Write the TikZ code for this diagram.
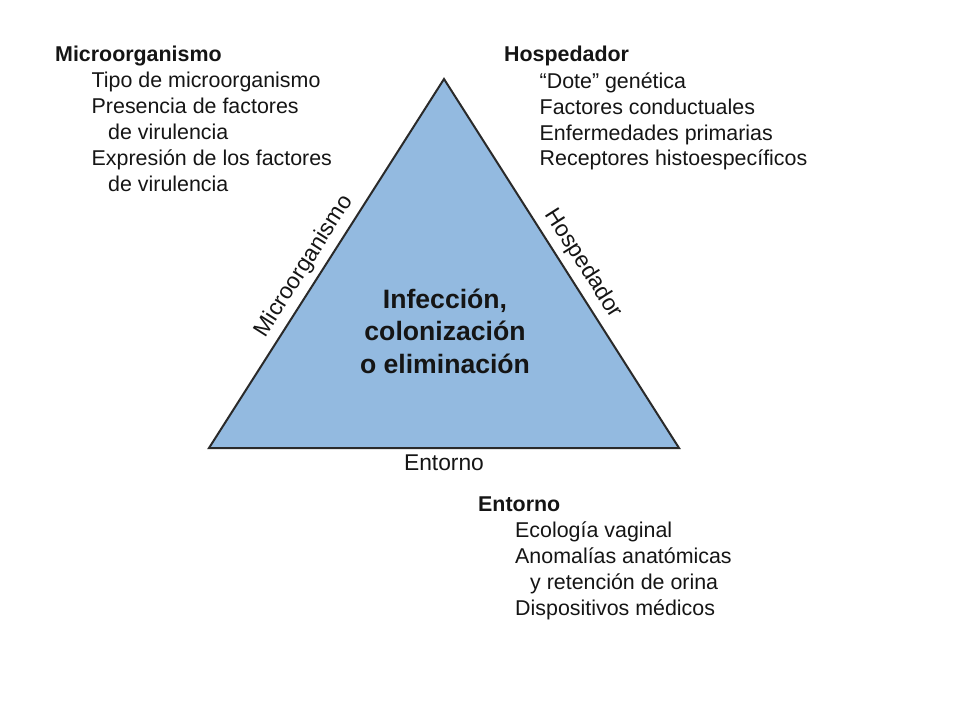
\documentclass[tikz,border=0pt]{standalone}
\usepackage{fontspec}
\setmainfont{Liberation Sans}
\definecolor{triblue}{HTML}{93BAE0}
\definecolor{triline}{HTML}{2A2A2A}
\definecolor{txt}{HTML}{151515}
\begin{document}
\begin{tikzpicture}[x=1pt,y=-1pt,
  item/.style={anchor=base west,inner sep=0pt,text=txt,font=\fontsize{21.4}{26}\selectfont},
  head/.style={item,font=\fontsize{21.4}{26}\selectfont\bfseries},
  side/.style={text=txt,font=\fontsize{22.8}{27}\selectfont,inner sep=3pt},
  center/.style={text=txt,font=\fontsize{26.6}{32.5}\selectfont\bfseries,align=center,inner sep=0pt}]
\useasboundingbox (0,0) rectangle (960,720);
\fill[white] (0,0) rectangle (960,720);
% triangle
\coordinate (A) at (444,79);
\coordinate (B) at (209,448);
\coordinate (C) at (679,448);
\filldraw[fill=triblue,draw=triline,line width=2pt,line join=miter] (B) -- (A) -- (C) -- cycle;
\path (B) -- node[side,sloped,above,pos=0.467,inner sep=6.3pt] (lm) {Microorganismo} (A);
\path (A) -- node[side,sloped,above,pos=0.527,inner sep=7.4pt] (lh) {Hospedador} (C);
\path (B) -- node[side,below,pos=0.5,inner sep=7pt] (le) {Entorno} (C);
\node[center,anchor=base] (cen) at (445,373) {Infección,\\colonización\\o eliminación};
% Microorganismo block
\node[head] (m0) at (55,61.5) {Microorganismo};
\node[item] (m1) at (91.5,87.5) {Tipo de microorganismo};
\node[item] (m2) at (91.5,113.5) {Presencia de factores};
\node[item] (m3) at (108,139.5) {de virulencia};
\node[item] (m4) at (91.5,165.5) {Expresión de los factores};
\node[item] (m5) at (108,191.5) {de virulencia};
% Hospedador block
\node[head] (h0) at (504,61.5) {Hospedador};
\node[item] (h1) at (539.5,88) {“Dote” genética};
\node[item] (h2) at (539.5,114) {Factores conductuales};
\node[item] (h3) at (539.5,140) {Enfermedades primarias};
\node[item] (h4) at (539.5,165) {Receptores histoespecíficos};
% Entorno block
\node[head] (e0) at (478,511.5) {Entorno};
\node[item] (e1) at (515,537.5) {Ecología vaginal};
\node[item] (e2) at (515,563.5) {Anomalías anatómicas};
\node[item] (e3) at (530,589.5) {y retención de orina};
\node[item] (e4) at (515,615.5) {Dispositivos médicos};
\end{tikzpicture}
\end{document}
